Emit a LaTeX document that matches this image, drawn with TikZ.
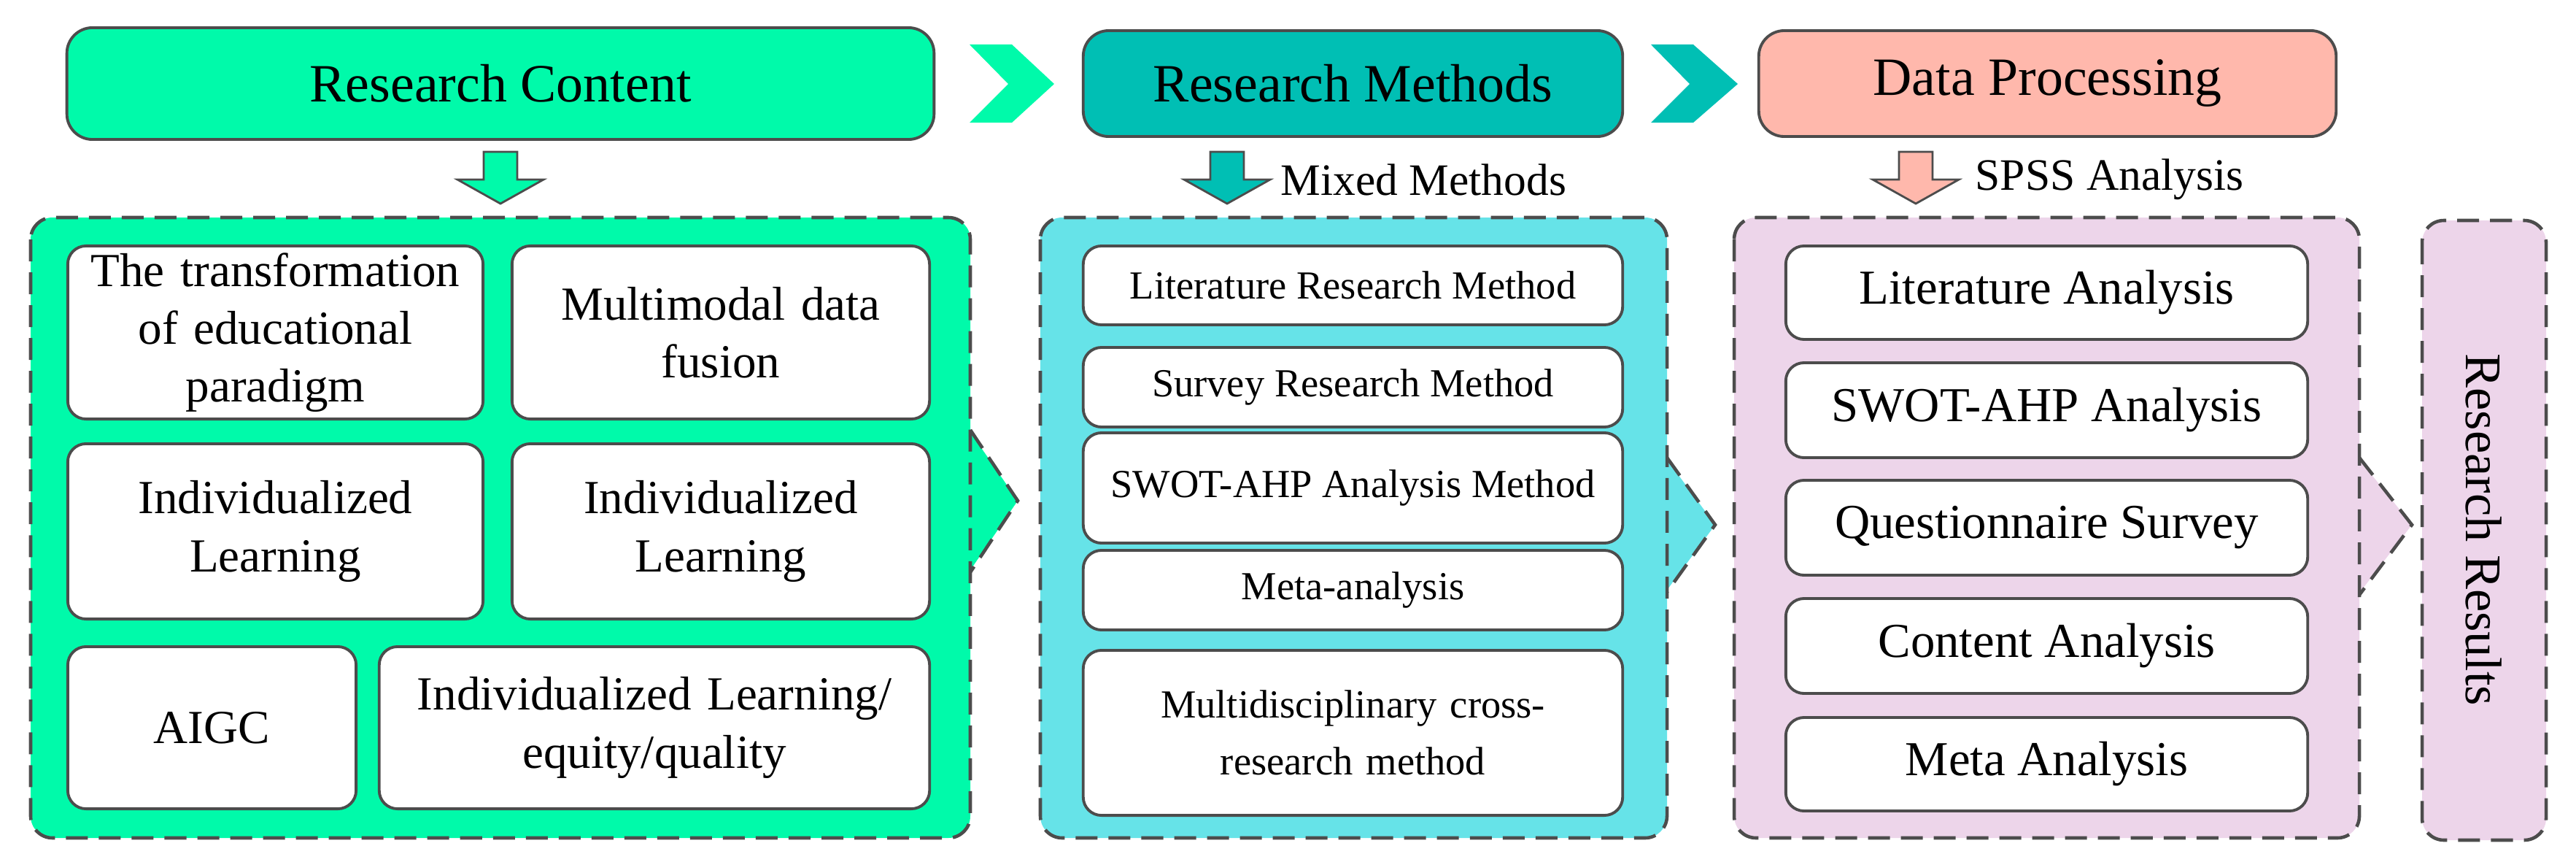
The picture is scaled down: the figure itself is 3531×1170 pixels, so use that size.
\documentclass[tikz,border=0pt]{standalone}
\usepackage{fontspec}
\setmainfont{Liberation Serif}
\begin{document}
\begin{tikzpicture}[x=0.01cm,y=-0.01cm,
  edge/.style={draw=gray!60!black,line width=1.1pt},
  top/.style={edge,rounded corners=0.35cm,inner sep=0pt,font=\fontsize{21}{26}\selectfont},
  panel/.style={draw=gray!60!black,line width=1.3pt,dash pattern=on 0.3cm off 0.15cm,rounded corners=0.3cm},
  box/.style={edge,fill=white,rounded corners=0.25cm,inner sep=0pt,align=center},
  cbox/.style={box,font=\fontsize{18.5}{22.5}\selectfont},
  mbox/.style={box,font=\fontsize{15.5}{22}\selectfont},
  dbox/.style={box,font=\fontsize{19}{24}\selectfont},
  lab/.style={font=\fontsize{17.5}{22}\selectfont,anchor=west,inner sep=0pt}]
\definecolor{cgreen}{HTML}{00FAAA}
\definecolor{cteal}{HTML}{00BFB4}
\definecolor{csalmon}{HTML}{FFB8AC}
\definecolor{ccyan}{HTML}{66E3E8}
\definecolor{cpink}{HTML}{EDD5EA}
\useasboundingbox (0,0) rectangle (3531,1170);

% top boxes
\node[top,fill=cgreen,minimum width=11.88cm,minimum height=1.53cm] (rc) at (686,114.5) {Research Content};
\node[top,fill=cteal,minimum width=7.39cm,minimum height=1.45cm] (rm) at (1854.5,114.5) {Research Methods};
\node[top,fill=csalmon,minimum width=7.91cm,minimum height=1.45cm] (dp) at (2806.5,114.5) {Data Processing};

% chevrons
\fill[cgreen] (1329,61) -- (1387,61) -- (1445,115) -- (1387,168) -- (1329,168) -- (1382,115) -- cycle;
\fill[cteal] (2263,61) -- (2321,61) -- (2382,115) -- (2321,168) -- (2263,168) -- (2316,115) -- cycle;

% down block arrows
\foreach \c/\col in {686/cgreen,1682/cteal,2626/csalmon}{
  \filldraw[fill=\col,draw=gray!60!black,line width=0.8pt]
    (\c-23,208) -- (\c+23,208) -- (\c+23,246) -- (\c+59,246) -- (\c,279) -- (\c-59,246) -- (\c-23,246) -- cycle;
}
\node[lab] (mixed) at (1755,246) {Mixed Methods};
\node[lab] (spss) at (2707,246) {SPSS Analysis};

% panels with pointers
\fill[cgreen] (1328,589) -- (1395,686) -- (1328,784) -- cycle;
\draw[panel,rounded corners=0pt] (1330,589) -- (1395,686) -- (1330,784);
\filldraw[panel,fill=cgreen] (42,298) rectangle (1330,1148);

\fill[ccyan] (2283,627) -- (2351,719) -- (2283,811) -- cycle;
\draw[panel,rounded corners=0pt] (2285,627) -- (2351,719) -- (2285,811);
\filldraw[panel,fill=ccyan] (1426,298) rectangle (2285,1148);

\fill[cpink] (3232,627) -- (3306,719) -- (3232,815) -- cycle;
\draw[panel,rounded corners=0pt] (3234,627) -- (3306,719) -- (3234,815);
\filldraw[panel,fill=cpink] (2377,298) rectangle (3234,1148);

\filldraw[panel,fill=cpink] (3320,302) rectangle (3490,1151);
\node[rotate=-90,font=\fontsize{20}{24}\selectfont] (rr) at (3405,726) {Research Results};

% content boxes
\node[cbox,minimum width=5.69cm,minimum height=2.37cm,text width=5.5cm] (b11) at (377.5,455.5) {The transformation\\of educational\\paradigm};
\node[cbox,minimum width=5.72cm,minimum height=2.37cm,text width=5.5cm] (b12) at (988,455.5) {Multimodal data\\fusion};
\node[cbox,minimum width=5.69cm,minimum height=2.40cm,text width=5.5cm] (b21) at (377.5,728) {Individualized\\Learning};
\node[cbox,minimum width=5.72cm,minimum height=2.40cm,text width=5.5cm] (b22) at (988,728) {Individualized\\Learning};
\node[cbox,minimum width=3.95cm,minimum height=2.22cm,text width=3.7cm] (b31) at (290.5,997) {AIGC};
\node[cbox,minimum width=7.54cm,minimum height=2.22cm,text width=7.3cm] (b32) at (897,997) {Individualized Learning/\\equity/quality};

% method boxes
\node[mbox,minimum width=7.39cm,minimum height=1.08cm] (m1) at (1854.5,391) {Literature Research Method};
\node[mbox,minimum width=7.39cm,minimum height=1.09cm] (m2) at (1854.5,530.5) {Survey Research Method};
\node[mbox,minimum width=7.39cm,minimum height=1.51cm] (m3) at (1854.5,668.5) {SWOT-AHP Analysis Method};
\node[mbox,minimum width=7.39cm,minimum height=1.09cm] (m4) at (1854.5,808.5) {Meta-analysis};
\node[mbox,minimum width=7.39cm,minimum height=2.26cm,text width=7cm] (m5) at (1854.5,1004) {Multidisciplinary cross-\\research method};

% data boxes
\node[dbox,minimum width=7.15cm,minimum height=1.28cm] (d1) at (2805.5,401) {Literature Analysis};
\node[dbox,minimum width=7.15cm,minimum height=1.30cm] (d2) at (2805.5,562) {SWOT-AHP Analysis};
\node[dbox,minimum width=7.15cm,minimum height=1.30cm] (d3) at (2805.5,723) {Questionnaire Survey};
\node[dbox,minimum width=7.15cm,minimum height=1.30cm] (d4) at (2805.5,885) {Content Analysis};
\node[dbox,minimum width=7.15cm,minimum height=1.28cm] (d5) at (2805.5,1047) {Meta Analysis};
\end{tikzpicture}
\end{document}
